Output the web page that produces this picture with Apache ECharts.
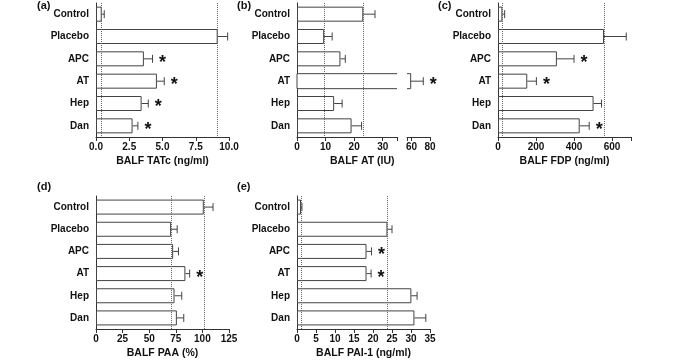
<!DOCTYPE html>
<html>
<head>
<meta charset="utf-8">
<script src="https://cdn.jsdelivr.net/npm/echarts@6/dist/echarts.min.js"></script>
<style>
  html, body { margin: 0; padding: 0; background: #fff; }
  #chart { width: 685px; height: 363px; }
</style>
</head>
<body>
<div id="chart"></div>
<script>
const groups = ['Control', 'Placebo', 'APC', 'AT', 'Hep', 'Dan']

// (a) BALF TATc (ng/ml)
const tatMean = [0.43, 9.15, 3.6, 4.58, 3.43, 2.75]
const tatSem = [0.19, 0.75, 0.65, 0.55, 0.5, 0.4]
const tatStar = [0, 0, 1, 1, 1, 1]

// (b) BALF AT (IU) - broken axis
const atMean = [23.2, 9.5, 15.2, 59, 13.0, 19.1]
const atSem = [4.1, 2.8, 1.7, 13.7, 2.8, 3.5]
const atStar = [0, 0, 0, 1, 0, 0]

// (c) BALF FDP (ng/ml)
const fdpMean = [23, 558, 310, 154, 503, 430]
const fdpSem = [12, 117, 90, 48, 42, 50]
const fdpStar = [0, 0, 1, 1, 0, 1]

// (d) BALF PAA (%)
const paaMean = [101.3, 70.6, 72.5, 84, 73.8, 76]
const paaSem = [8.7, 5.7, 5, 4, 6.8, 6.5]
const paaStar = [0, 0, 0, 1, 0, 0]

// (e) BALF PAI-1 (ng/ml)
const paiMean = [1.05, 23.8, 18.3, 18.3, 30.1, 30.9]
const paiSem = [0.25, 1.2, 1.3, 1.2, 1.5, 3.0]
const paiStar = [0, 0, 1, 1, 0, 0]

const font = "'Liberation Sans', Arial, sans-serif"
const ink = '#333'
const BAR_H = 15

const chart = echarts.init(document.getElementById('chart'))

const grids = [
  { left: 96, top: 3, width: 133, height: 134 },   // a
  { left: 297, top: 3, width: 100, height: 134 },  // b (0-35)
  { left: 407, top: 3, width: 23, height: 134 },   // b (55-80)
  { left: 498, top: 3, width: 133, height: 134 },  // c
  { left: 96, top: 196, width: 133, height: 133 }, // d
  { left: 297, top: 196, width: 133, height: 133 } // e
]

const yAxisFor = (gridIndex, show = true) => ({
  gridIndex,
  type: 'category',
  data: groups,
  inverse: true,
  show,
  axisLine: { lineStyle: { color: ink, width: 1 } },
  axisTick: { alignWithLabel: true, length: 4, lineStyle: { color: ink } },
  axisLabel: { fontSize: 10, fontWeight: 'bold', color: '#111', margin: 7, fontFamily: font },
  splitLine: { show: false }
})

const xAxisFor = (gridIndex, opts) => ({
  gridIndex,
  type: 'value',
  nameLocation: 'middle',
  nameGap: 19,
  nameTextStyle: { fontSize: 10.5, fontWeight: 'bold', color: '#111', fontFamily: font },
  axisLine: { show: true, onZero: false, lineStyle: { color: ink, width: 1 } },
  axisTick: { show: true, length: 4, lineStyle: { color: ink } },
  splitLine: { show: false },
  ...opts,
  axisLabel: { fontSize: 10, fontWeight: 'bold', color: '#111', margin: 5, fontFamily: font, ...(opts.axisLabel || {}) }
})

const barSeries = (gridIndex, values) => ({
  type: 'bar',
  xAxisIndex: gridIndex,
  yAxisIndex: gridIndex,
  data: values,
  barWidth: BAR_H,
  z: 3,
  itemStyle: { color: '#fff', borderColor: '#444', borderWidth: 1 }
})

const refLines = (gridIndex, values) => ({
  type: 'line',
  xAxisIndex: gridIndex,
  yAxisIndex: gridIndex,
  data: [],
  z: 1,
  markLine: {
    silent: true,
    symbol: 'none',
    animation: false,
    label: { show: false },
    lineStyle: { type: 'dotted', color: '#666', width: 1 },
    data: values.map(v => ({ xAxis: v }))
  }
})

// error bar (right side only) + significance star
const errorSeries = (gridIndex, items) => ({
  type: 'custom',
  xAxisIndex: gridIndex,
  yAxisIndex: gridIndex,
  z: 4,
  clip: false,
  data: items,
  renderItem: (params, api) => {
    const idx = api.value(1)
    const p0 = api.coord([api.value(0), idx])
    const p1 = api.coord([api.value(2), idx])
    const style = { stroke: '#444', lineWidth: 1 }
    const children = [
      { type: 'line', shape: { x1: p0[0], y1: p0[1], x2: p1[0], y2: p1[1] }, style },
      { type: 'line', shape: { x1: p1[0], y1: p1[1] - 4, x2: p1[0], y2: p1[1] + 4 }, style }
    ]
    if (api.value(3)) {
      children.push({
        type: 'text',
        style: {
          text: '*', x: p1[0] + 10, y: p1[1] + 4,
          fontSize: 18, fontWeight: 'bold', fill: '#111', fontFamily: font,
          align: 'center', verticalAlign: 'middle'
        }
      })
    }
    return { type: 'group', children }
  }
})

const errItems = (mean, sem, star, skip = []) =>
  mean.map((m, i) => skip.includes(i) ? null : [m, i, m + sem[i], star[i]]).filter(Boolean)

// broken AT bar in panel (b): open right end on the left part, open left end on the right part
const brokenBar = (gridIndex, from, to, idx) => ({
  type: 'custom',
  xAxisIndex: gridIndex,
  yAxisIndex: gridIndex,
  z: 3,
  data: [[from, to, idx]],
  renderItem: (params, api) => {
    const a = api.coord([api.value(0), api.value(2)])
    const b = api.coord([api.value(1), api.value(2)])
    const h = BAR_H / 2
    const openRight = api.value(0) === 0
    const pts = openRight
      ? [[b[0], a[1] - h], [a[0], a[1] - h], [a[0], a[1] + h], [b[0], a[1] + h]]
      : [[a[0], a[1] - h], [b[0], a[1] - h], [b[0], a[1] + h], [a[0], a[1] + h]]
    return {
      type: 'group',
      children: [
        { type: 'rect', shape: { x: a[0], y: a[1] - h, width: b[0] - a[0], height: BAR_H }, style: { fill: '#fff' } },
        { type: 'polyline', shape: { points: pts }, style: { stroke: '#444', lineWidth: 1, fill: null } }
      ]
    }
  }
})

const AT_IDX = 3
const atLeftBars = atMean.map((v, i) => i === AT_IDX ? '-' : v)

const option = {
  animation: false,
  grid: grids,
  xAxis: [
    xAxisFor(0, { min: 0, max: 10, interval: 2.5, name: 'BALF TATc (ng/ml)',
      axisLabel: { formatter: v => v.toFixed(1) } }),
    xAxisFor(1, { min: 0, max: 35, interval: 10,
      axisLabel: { formatter: v => (v % 10 === 0 ? v : '') } }),
    xAxisFor(2, { min: 55, max: 80,
      axisTick: { show: true, length: 4, lineStyle: { color: ink }, customValues: [55, 60, 80] },
      axisLabel: { customValues: [60, 80] } }),
    xAxisFor(3, { min: 0, max: 700, interval: 200, name: 'BALF FDP (ng/ml)',
      axisLabel: { formatter: v => (v % 200 === 0 ? v : '') } }),
    xAxisFor(4, { min: 0, max: 125, interval: 25, name: 'BALF PAA (%)' }),
    xAxisFor(5, { min: 0, max: 35, interval: 5, name: 'BALF PAI-1 (ng/ml)' })
  ],
  yAxis: [
    yAxisFor(0), yAxisFor(1), yAxisFor(2, false), yAxisFor(3), yAxisFor(4), yAxisFor(5)
  ],
  graphic: [
    ...[['(a)', 37, 0], ['(b)', 237, 0], ['(c)', 438, 0], ['(d)', 37, 181], ['(e)', 237, 181]].map(([t, x, y]) => ({
      type: 'text', left: x, top: y,
      style: { text: t, fontSize: 11, fontWeight: 'bold', fill: '#111', fontFamily: font }
    })),
    {
      type: 'text', left: 330, top: 156,
      style: { text: 'BALF AT (IU)', fontSize: 10.5, fontWeight: 'bold', fill: '#111', fontFamily: font }
    }
  ],
  series: [
    refLines(0, [tatMean[0], tatMean[1]]),
    barSeries(0, tatMean),
    errorSeries(0, errItems(tatMean, tatSem, tatStar)),

    refLines(1, [atMean[0], atMean[1]]),
    barSeries(1, atLeftBars),
    brokenBar(1, 0, 35, AT_IDX),
    errorSeries(1, errItems(atMean, atSem, atStar, [AT_IDX])),
    brokenBar(2, 55, atMean[AT_IDX], AT_IDX),
    errorSeries(2, [[atMean[AT_IDX], AT_IDX, atMean[AT_IDX] + atSem[AT_IDX], atStar[AT_IDX]]]),

    refLines(3, [fdpMean[0], fdpMean[1]]),
    barSeries(3, fdpMean),
    errorSeries(3, errItems(fdpMean, fdpSem, fdpStar)),

    refLines(4, [paaMean[1], paaMean[0]]),
    barSeries(4, paaMean),
    errorSeries(4, errItems(paaMean, paaSem, paaStar)),

    refLines(5, [paiMean[0], paiMean[1]]),
    barSeries(5, paiMean),
    errorSeries(5, errItems(paiMean, paiSem, paiStar))
  ]
}

chart.setOption(option)
window.addEventListener('resize', () => chart.resize())
</script>
</body>
</html>
